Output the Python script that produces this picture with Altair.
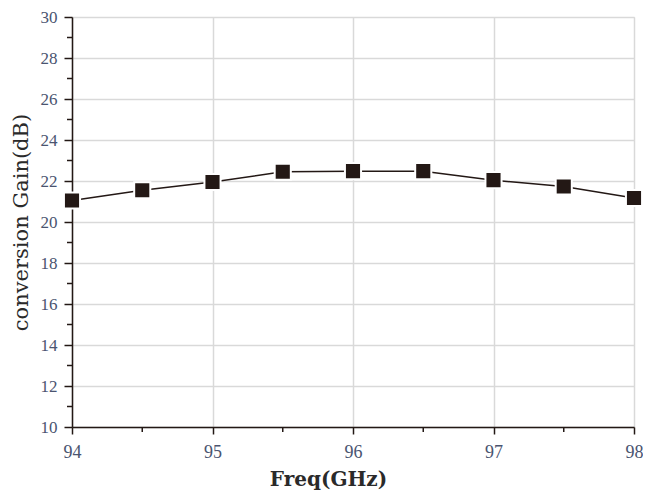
import altair as alt
import pandas as pd

freq = [94, 94.5, 95, 95.5, 96, 96.5, 97, 97.5, 98]
gain = [21.05, 21.55, 21.95, 22.45, 22.48, 22.48, 22.04, 21.73, 21.17]
y_minor = [11, 13, 15, 17, 19, 21, 23, 25, 27, 29]
x_minor = [94.5, 95.5, 96.5, 97.5]

W, H = 562, 410
DARK = "#231815"
LBL = "#4a5470"

df = pd.DataFrame({"freq": freq, "gain": gain})
xs = alt.Scale(domain=[94, 98], nice=False)
ys = alt.Scale(domain=[10, 30], nice=False)

x_axis = alt.Axis(values=[94, 95, 96, 97, 98], format="d", title="Freq(GHz)", grid=True,
                  gridColor="#d9d9d9", gridWidth=1.5, tickSize=7, tickColor=DARK,
                  tickWidth=1.5, domainColor=DARK, domainWidth=1.5, labelFlush=False,
                  labelFont="Liberation Serif", labelFontSize=18, labelColor=LBL,
                  labelPadding=9, titleFont="DejaVu Serif", titleFontSize=20,
                  titleFontWeight="bold", titleColor="#2a2a2a", titlePadding=8,
                  titleX=256)
y_axis = alt.Axis(values=list(range(10, 31, 2)), format="d", title="conversion Gain(dB)", grid=True,
                  gridColor="#d9d9d9", gridWidth=1.5, tickSize=8, tickColor=DARK,
                  tickWidth=1.5, domainColor=DARK, domainWidth=1.5, labelFlush=False,
                  labelFont="Liberation Serif", labelFontSize=17, labelColor=LBL,
                  labelPadding=7, titleFont="DejaVu Serif", titleFontSize=21,
                  titleFontWeight="normal", titleColor="#2a2a2a", titlePadding=9)

base = alt.Chart(df)
line = base.mark_line(color=DARK, strokeWidth=1.5).encode(
    x=alt.X("freq:Q", scale=xs, axis=x_axis),
    y=alt.Y("gain:Q", scale=ys, axis=y_axis),
)
pts = base.mark_point(shape="square", filled=True, size=260, color=DARK,
                      stroke="white", strokeWidth=2, opacity=1).encode(
    x=alt.X("freq:Q", scale=xs),
    y=alt.Y("gain:Q", scale=ys),
)
ymin = alt.Chart(pd.DataFrame({"v": y_minor})).mark_rule(color=DARK, strokeWidth=1.5).encode(
    y=alt.Y("v:Q", scale=ys), x=alt.value(-5), x2=alt.value(0))
xmin = alt.Chart(pd.DataFrame({"v": x_minor})).mark_rule(color=DARK, strokeWidth=1.5).encode(
    x=alt.X("v:Q", scale=xs), y=alt.value(H), y2=alt.value(H + 5))

chart = alt.layer(line, ymin, xmin, pts).properties(
    width=W, height=H,
    autosize=alt.AutoSizeParams(type="none"),
    padding={"left": 64, "top": 9, "right": 9, "bottom": 64},
).configure_view(stroke=DARK, strokeWidth=1.5).configure(background="white")

chart.save("out.html", embed_options={"renderer": "svg", "actions": False})
